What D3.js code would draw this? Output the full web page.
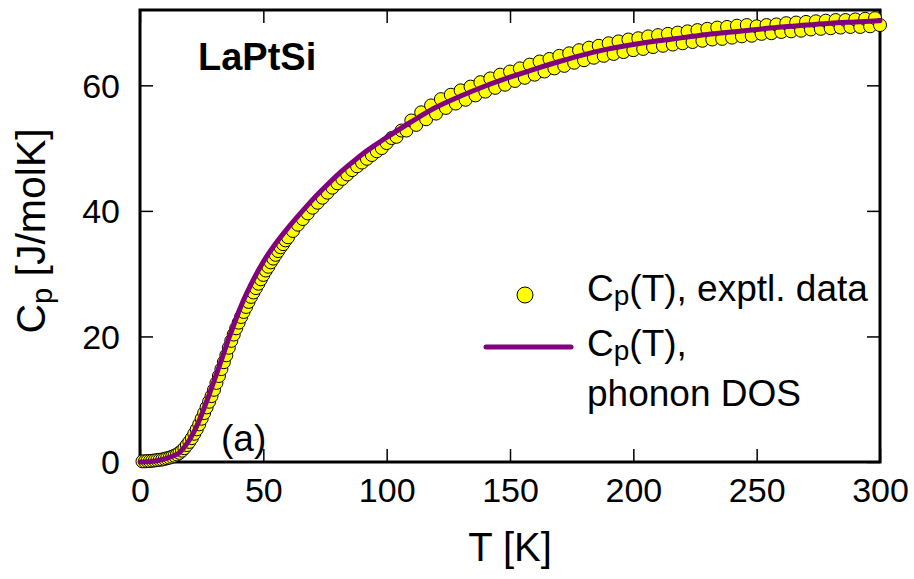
<!DOCTYPE html>
<html>
<head>
<meta charset="utf-8">
<script src="https://cdn.jsdelivr.net/npm/d3@7"></script>
<style>
  html, body { margin: 0; padding: 0; background: #fff; }
  svg { display: block; }
  text { font-family: "Liberation Sans", Arial, Helvetica, sans-serif; fill: #000; }
</style>
</head>
<body>
<svg id="chart" width="914" height="579"></svg>
<script>
// ---------- data ----------
const T_exp = [1,2,3,4,5,6,7,8,9,10,11,12,13,14,15,16,17,18,19,20,21,22,23,24,25,26,27,28,29,30,
  31,32,33,34,35,36,37,38,39,40,41,42,43,44,45,46,47,48,49,50,51,52,53,54,55,56,57,58,59,60,
  62,64,66,68,70,72,74,76,78,80,82,84,86,88,90,92,94,96,98,
  100,102,104,106,108,110,112,114,116,118,
  120,122,124,126,128,130,132,134,136,138,
  140,142,144,146,148,150,152,154,156,158,
  160,162,164,166,168,170,172,174,176,178,
  180,182,184,186,188,190,192,194,196,198,
  200,202,204,206,208,210,212,214,216,218,
  220,222,224,226,228,230,232,234,236,238,
  240,242,244,246,248,250,252,254,256,258,
  260,262,264,266,268,270,272,274,276,278,
  280,282,284,286,288,290,292,294,296,298,
  300];
const Cp_exp = [0.1,0.1,0.15,0.15,0.2,0.25,0.3,0.35,0.4,0.5,0.6,0.7,0.85,1.0,1.2,1.45,1.8,2.2,2.7,3.2,
  3.8,4.5,5.2,6.0,6.9,7.8,8.7,9.6,10.5,11.5,12.6,13.7,14.8,15.9,17.0,18.2,19.3,20.3,21.3,22.2,
  23.1,23.9,24.7,25.5,26.3,27.0,27.7,28.4,29.1,29.8,30.5,31.1,31.8,32.4,33.0,33.6,34.2,34.7,35.3,35.8,
  36.8,37.8,38.7,39.6,40.5,41.3,42.1,42.9,43.7,44.4,45.1,45.8,46.5,47.1,47.7,48.3,48.9,49.5,50.0,
  50.8,51.6,51.8,52.8,52.8,54.4,53.7,55.7,54.6,56.8,
  55.5,57.8,56.4,58.5,57.1,59.2,57.7,59.8,58.4,60.5,
  59.0,61.1,59.6,61.7,60.1,62.2,60.7,62.7,61.2,63.3,
  61.7,63.8,62.2,64.2,62.7,64.7,63.1,65.1,63.6,65.6,
  64.0,66.0,64.4,66.3,64.7,66.7,65.0,67.0,65.3,67.3,
  65.6,67.5,65.8,67.8,66.1,68.0,66.3,68.2,66.5,68.4,
  66.7,68.6,66.9,68.8,67.1,69.0,67.3,69.2,67.4,69.3,
  67.6,69.5,67.8,69.6,67.9,69.4,68.2,69.6,68.3,69.7,
  68.5,69.9,68.6,70.0,68.7,70.1,68.9,70.2,69.0,70.3,
  69.1,70.4,69.2,70.4,69.3,70.5,69.3,70.6,69.4,70.7,
  69.6];

const T_dos = [0,2,4,6,8,10,12,14,16,18,20,22,24,26,28,30,32,34,36,38,40,42,45,50,55,60,65,70,75,80,85,90,95,
  100,110,120,130,140,150,160,170,180,190,200,210,220,230,240,250,260,270,280,290,300];
const Cp_dos = [0,0.02,0.06,0.15,0.3,0.5,0.75,1.05,1.5,2.4,3.5,4.9,6.6,8.6,10.7,12.9,15.1,17.4,19.7,21.8,
  23.9,25.8,28.3,31.9,34.8,37.3,39.6,41.8,43.8,45.7,47.4,49.0,50.4,51.7,54.2,56.5,58.3,59.9,61.3,62.6,
  63.8,64.9,65.8,66.5,67.1,67.6,68.1,68.5,68.9,69.3,69.6,69.9,70.1,70.3];

const xTicks = [0, 50, 100, 150, 200, 250, 300];
const yTicks = [0, 20, 40, 60];
const xDomain = [0, 300];
const yDomain = [0, 72];

// ---------- layout ----------
const W = 914, H = 579;
const m = {left: 140, right: 34, top: 10, bottom: 117};
const iw = W - m.left - m.right, ih = H - m.top - m.bottom;

const svg = d3.select("#chart");
const g = svg.append("g").attr("transform", `translate(${m.left},${m.top})`);

const x = d3.scaleLinear().domain(xDomain).range([0, iw]);
const y = d3.scaleLinear().domain(yDomain).range([ih, 0]);

const tickLen = 13;
const tickFont = 34;

// axes (inward ticks, mirrored)
const axB = g.append("g").attr("transform", `translate(0,${ih})`)
  .call(d3.axisBottom(x).tickValues(xTicks).tickSize(-tickLen).tickPadding(16).tickFormat(d3.format("d")));
const axT = g.append("g")
  .call(d3.axisTop(x).tickValues(xTicks).tickSize(-tickLen).tickFormat(""));
const axL = g.append("g")
  .call(d3.axisLeft(y).tickValues(yTicks).tickSize(-tickLen).tickPadding(20).tickFormat(d3.format("d")));
const axR = g.append("g").attr("transform", `translate(${iw},0)`)
  .call(d3.axisRight(y).tickValues(yTicks).tickSize(-tickLen).tickFormat(""));

[axB, axT, axL, axR].forEach(a => {
  a.select(".domain").remove();
  a.selectAll(".tick line").attr("stroke", "#000").attr("stroke-width", 1.5);
  a.selectAll(".tick text").attr("font-size", tickFont)
   .style("font-family", '"Liberation Sans", Arial, sans-serif').attr("fill", "#000");
});
axB.selectAll(".tick text").attr("dy", "0.71em");
axL.selectAll(".tick text").attr("dy", "0.35em");

// frame
g.append("rect").attr("x", 0).attr("y", 0).attr("width", iw).attr("height", ih)
  .attr("fill", "none").attr("stroke", "#000").attr("stroke-width", 3);

// experimental points
g.append("g").selectAll("circle").data(T_exp.map((t, i) => [t, Cp_exp[i]]))
  .join("circle")
  .attr("cx", d => x(d[0])).attr("cy", d => y(d[1])).attr("r", 6.5)
  .attr("fill", "#ffff00").attr("stroke", "#000").attr("stroke-width", 1);

// phonon DOS curve
const line = d3.line().x(d => x(d[0])).y(d => y(d[1])).curve(d3.curveMonotoneX);
g.append("path").datum(T_dos.map((t, i) => [t, Cp_dos[i]]))
  .attr("d", line).attr("fill", "none").attr("stroke", "#800080").attr("stroke-width", 5)
  .attr("stroke-linejoin", "round").attr("stroke-linecap", "round");

// labels
svg.append("text").attr("x", m.left + iw / 2).attr("y", 561).attr("text-anchor", "middle")
  .attr("font-size", 40).text("T [K]");

const yl = svg.append("text").attr("transform", "translate(45,231) rotate(-90)")
  .attr("text-anchor", "middle").attr("font-size", 41);
yl.append("tspan").text("C");
yl.append("tspan").attr("font-size", 29).attr("dy", 7).text("p");
yl.append("tspan").attr("dy", -7).text(" [J/molK]");

svg.append("text").attr("x", 198).attr("y", 70).attr("font-size", 38).attr("font-weight", "bold")
  .text("LaPtSi");
svg.append("text").attr("x", 221).attr("y", 451).attr("font-size", 37).text("(a)");

// legend
const legFont = 37;
svg.append("circle").attr("cx", 525).attr("cy", 295).attr("r", 8)
  .attr("fill", "#ffff00").attr("stroke", "#000").attr("stroke-width", 1);
svg.append("line").attr("x1", 486).attr("x2", 571).attr("y1", 347).attr("y2", 347)
  .attr("stroke", "#800080").attr("stroke-width", 5).attr("stroke-linecap", "round");

const l1 = svg.append("text").attr("x", 587).attr("y", 301).attr("font-size", legFont);
l1.append("tspan").text("C");
l1.append("tspan").attr("font-size", 28).attr("dy", 4).text("p");
l1.append("tspan").attr("dy", -4).text("(T), exptl. data");

const l2 = svg.append("text").attr("x", 587).attr("y", 356).attr("font-size", legFont);
l2.append("tspan").text("C");
l2.append("tspan").attr("font-size", 28).attr("dy", 4).text("p");
l2.append("tspan").attr("dy", -4).text("(T),");
svg.append("text").attr("x", 587).attr("y", 406).attr("font-size", legFont).text("phonon DOS");
</script>
</body>
</html>
